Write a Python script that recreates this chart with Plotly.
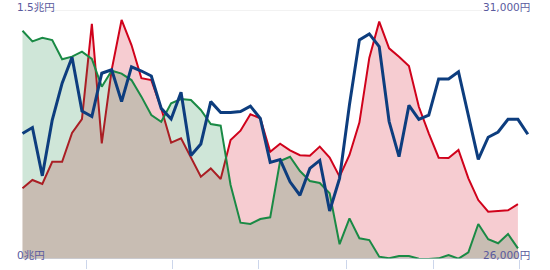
import plotly.graph_objects as go
import pandas as pd

# Weekly dates (Fridays)
dates = pd.date_range("2021-01-15", periods=52, freq="7D")

# Red area series (兆円)
red = [0.426, 0.476, 0.452, 0.586, 0.586, 0.759, 0.843, 1.417, 0.697, 1.139,
       1.440, 1.289, 1.089, 1.078, 0.908, 0.701, 0.727, 0.616, 0.496, 0.546,
       0.482, 0.717, 0.773, 0.872, 0.848, 0.646, 0.695, 0.655, 0.625, 0.622,
       0.677, 0.611, 0.496, 0.627, 0.822, 1.211, 1.430, 1.269, 1.219, 1.163,
       0.917, 0.757, 0.610, 0.608, 0.657, 0.486, 0.355, 0.285, 0.291, 0.293,
       0.331]

# Green area series (兆円)
green = [1.375, 1.311, 1.333, 1.319, 1.203, 1.219, 1.249, 1.205, 1.038, 1.134,
         1.117, 1.078, 0.978, 0.867, 0.827, 0.938, 0.964, 0.958, 0.898, 0.813,
         0.803, 0.446, 0.219, 0.211, 0.241, 0.251, 0.590, 0.616, 0.530, 0.470,
         0.458, 0.396, 0.089, 0.245, 0.125, 0.114, 0.014, 0.004, 0.018, 0.018,
         0.002, 0.000, 0.004, 0.024, 0.002, 0.040, 0.211, 0.119, 0.095, 0.151,
         0.064]

# Blue line: stock price (円), right axis
price = [28520, 28640, 27670, 28790, 29530, 30050, 28970, 28860, 29730, 29800,
         29160, 29860, 29775, 29675, 29025, 28810, 29350, 28080, 28310, 29160,
         28940, 28940, 28960, 29070, 28825, 27940, 27995, 27550, 27280, 27820,
         27980, 26965, 27620, 29100, 30400, 30520, 30265, 28760, 28055, 29085,
         28805, 28890, 29615, 29615, 29760, 28860, 28000, 28445, 28550, 28805,
         28805, 28505]

n_area = len(red)

fig = go.Figure()
fig.add_trace(go.Scatter(
    x=dates[:n_area], y=red, mode="lines",
    line=dict(color="#d0021b", width=2),
    fill="tozeroy", fillcolor="rgba(208,2,27,0.2)",
    hoverinfo="skip", showlegend=False))
fig.add_trace(go.Scatter(
    x=dates[:n_area], y=green, mode="lines",
    line=dict(color="#1a8a45", width=2),
    fill="tozeroy", fillcolor="rgba(26,136,69,0.21)",
    hoverinfo="skip", showlegend=False))
fig.add_trace(go.Scatter(
    x=dates, y=price, mode="lines", yaxis="y2",
    line=dict(color="#0d3d7e", width=3),
    hoverinfo="skip", showlegend=False))

# x-axis geometry: first date at ~22.5px, 1.4155 px per day, plot starts at 18px
W, H = 550, 270
ml, mr, mt, mb = 18, 0, 10, 11
px_day = 1.4155
x0_px = 22.5
d0 = dates[0]
start = d0 - pd.Timedelta(days=(x0_px - ml) / px_day)
end = d0 + pd.Timedelta(days=(W - mr - x0_px) / px_day)

label_color = "#5a5a9e"
font = dict(family="DejaVu Sans, Noto Sans CJK JP", size=10.5, color=label_color)
pw = W - ml - mr

def px2paper(px):
    return (px - ml) / pw

fig.update_layout(
    width=W, height=H,
    margin=dict(l=ml, r=mr, t=mt, b=mb, pad=0),
    paper_bgcolor="white", plot_bgcolor="white",
    xaxis=dict(type="date", range=[start, end], showgrid=False, zeroline=False,
               showline=False, showticklabels=False, ticks="outside", ticklen=9,
               tickwidth=1, tickcolor="#ccd6eb", dtick="M2", tick0="2021-01-01"),
    yaxis=dict(range=[0, 1.5], showgrid=False, zeroline=False,
               showticklabels=False, showline=False),
    yaxis2=dict(range=[26000, 31000], overlaying="y", side="right",
                showgrid=False, zeroline=False, showticklabels=False, showline=False),
    shapes=[
        dict(type="line", xref="paper", yref="y", x0=0, x1=px2paper(482), y0=1.5, y1=1.5,
             line=dict(color="#e6e6e6", width=1), layer="below"),
        dict(type="line", xref="paper", yref="y", x0=0, x1=px2paper(520), y0=0, y1=0,
             line=dict(color="#ccd6eb", width=1), layer="above"),
    ],
    annotations=[
        dict(text="1.5兆円", x=0, y=1, xref="paper", yref="paper", xanchor="left",
             yanchor="top", showarrow=False, font=font, xshift=-2, yshift=10,
             borderpad=0),
        dict(text="0兆円", x=0, y=0, xref="paper", yref="paper", xanchor="left",
             yanchor="bottom", showarrow=False, font=font, xshift=-2, yshift=-3,
             borderpad=0),
        dict(text="31,000円", x=px2paper(531), y=1, xref="paper", yref="paper",
             xanchor="right", yanchor="top", showarrow=False, font=font, yshift=10,
             borderpad=0),
        dict(text="26,000円", x=px2paper(531), y=0, xref="paper", yref="paper",
             xanchor="right", yanchor="bottom", showarrow=False, font=font, yshift=-3,
             borderpad=0),
    ],
)

fig.write_html("out.html")
